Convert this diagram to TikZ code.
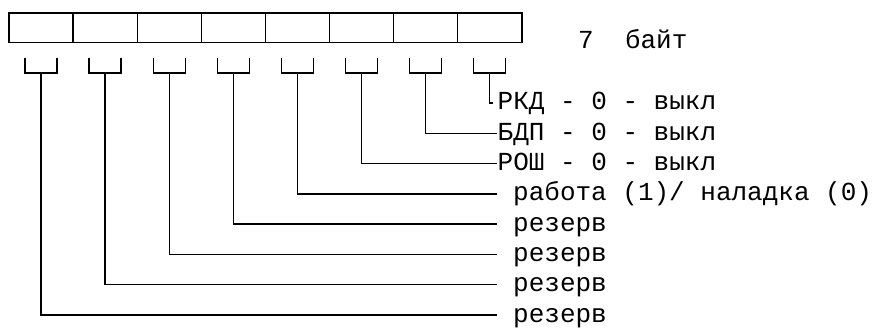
\documentclass[tikz,border=0pt]{standalone}
\usepackage{fontspec}
\setmainfont{Liberation Mono}
\begin{document}
\begin{tikzpicture}[x=1pt,y=-1pt,line width=1.4pt,
  cellbox/.style={draw,anchor=north west,minimum width=64.1pt,minimum height=29.7pt,inner sep=0pt,outer sep=0pt},
  lbl/.style={anchor=base west,inner sep=0pt,font=\fontsize{26}{30}\selectfont},
  wire/.style={line width=1.4pt}]
\useasboundingbox (0,0) rectangle (879,327);
% register cells
\foreach \i in {0,...,7} {
  \node[cellbox] (c\i) at ({9+64.1*\i},13) {};
}
% brackets and wires
\foreach \i/\ex in {0/497,1/497,2/497,3/497,4/497,5/497,6/497,7/493} {
  \coordinate (bl\i) at ({25+64.1*\i},58);
  \coordinate (br\i) at ({57+64.1*\i},58);
  \coordinate (s\i) at ({41+64.1*\i},73);
  \coordinate (e\i) at (\ex,{315-30.3*\i});
  \draw[wire] (bl\i) |- (br\i |- s\i) -- (br\i);
  \draw[wire] (s\i) |- (e\i);
}
% labels
\node[lbl] (byte) at (577.5,48) {7\ \ байт};
\node[lbl] (t7) at (497,{322-30.3*7}) {РКД - 0 - выкл};
\node[lbl] (t6) at (497,{322-30.3*6}) {БДП - 0 - выкл};
\node[lbl] (t5) at (497,{322-30.3*5}) {РОШ - 0 - выкл};
\node[lbl] (t4) at (512.5,{322-30.3*4}) {работа (1)/ наладка (0)};
\node[lbl] (t3) at (512.5,{322-30.3*3}) {резерв};
\node[lbl] (t2) at (512.5,{322-30.3*2}) {резерв};
\node[lbl] (t1) at (512.5,{322-30.3*1}) {резерв};
\node[lbl] (t0) at (512.5,{322-30.3*0}) {резерв};
\end{tikzpicture}
\end{document}
